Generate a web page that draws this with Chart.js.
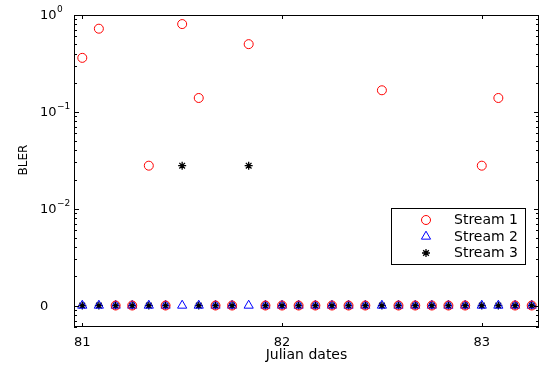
<!DOCTYPE html>
<html>
<head>
<meta charset="utf-8">
<title>BLER per stream</title>
<script src="https://cdn.jsdelivr.net/npm/chart.js@4.4.0/dist/chart.umd.min.js"></script>
<style>
    html, body { margin: 0; padding: 0; background: #fff; }
    #wrap { width: 546px; height: 366px; }
</style>
</head>
<body>
<div id="wrap"><canvas id="bler-chart" width="546" height="366"></canvas></div>
<script>
// Julian dates, one sample every two hours
const julianDates = [
    81.000, 81.083, 81.167, 81.250, 81.333, 81.417, 81.500, 81.583, 81.667, 81.750,
    81.833, 81.917, 82.000, 82.083, 82.167, 82.250, 82.333, 82.417, 82.500, 82.583,
    82.667, 82.750, 82.833, 82.917, 83.000, 83.083, 83.167, 83.250
];

// BLER per stream (0 = no block errors)
const stream1 = [
    0.361, 0.722, 0, 0, 0.0278, 0, 0.806, 0.139, 0, 0,
    0.500, 0, 0, 0, 0, 0, 0, 0, 0.167, 0,
    0, 0, 0, 0, 0.0278, 0.139, 0, 0
];
const stream2 = [
    0, 0, 0, 0, 0, 0, 0, 0, 0, 0,
    0, 0, 0, 0, 0, 0, 0, 0, 0, 0,
    0, 0, 0, 0, 0, 0, 0, 0
];
const stream3 = [
    0, 0, 0, 0, 0, 0, 0.0278, 0, 0, 0,
    0.0278, 0, 0, 0, 0, 0, 0, 0, 0, 0,
    0, 0, 0, 0, 0, 0, 0, 0
];

const legendLabels = ['Stream 1', 'Stream 2', 'Stream 3'];
const xTickValues = [81, 82, 83];
const yTickValues = [1, 0.1, 0.01, 0.001];
// [base, exponent]; an empty exponent means a plain label
const yTickLabels = [['10', '0'], ['10', '\u22121'], ['10', '\u22122'], ['0', '']];
const yTitle = 'BLER';

// zero BLER can't sit on a log axis, so it's drawn on this line and labelled "0"
const ZERO_LEVEL = 0.001;
const FONT = 'DejaVu Sans';

function toPoints(values) {
    return values.map((v, i) => ({ x: julianDates[i], y: v === 0 ? ZERO_LEVEL : v }));
}

function drawMarker(ctx, ds, cx, cy) {
    const r = ds.pointRadius;
    ctx.strokeStyle = ds.borderColor;
    ctx.lineWidth = ds.pointBorderWidth;
    ctx.beginPath();
    if (ds.pointStyle === 'circle') {
        ctx.arc(cx, cy, r, 0, Math.PI * 2);
    } else if (ds.pointStyle === 'triangle') {
        for (let i = 0; i < 3; i++) {
            const a = i * Math.PI * 2 / 3;
            const px = cx + Math.sin(a) * r;
            const py = cy - Math.cos(a) * r;
            if (i === 0) ctx.moveTo(px, py); else ctx.lineTo(px, py);
        }
        ctx.closePath();
    } else {
        const d = r * Math.SQRT1_2;
        ctx.moveTo(cx - r, cy); ctx.lineTo(cx + r, cy);
        ctx.moveTo(cx, cy - r); ctx.lineTo(cx, cy + r);
        ctx.moveTo(cx - d, cy - d); ctx.lineTo(cx + d, cy + d);
        ctx.moveTo(cx - d, cy + d); ctx.lineTo(cx + d, cy - d);
    }
    ctx.stroke();
}

/**
 * Axis box with inward ticks, y labels with exponents, y title and the legend
 */
const matlabFrame = {
    id: 'matlabFrame',
    afterDatasetsDraw(chart) {
        const { ctx, chartArea: a, scales: { x, y } } = chart;
        ctx.save();
        ctx.strokeStyle = '#000';
        ctx.lineWidth = 1;
        ctx.strokeRect(Math.round(a.left) + 0.5, Math.round(a.top) + 0.5,
            Math.round(a.right - a.left) - 1, Math.round(a.bottom - a.top) - 1);

        ctx.beginPath();
        const yTick = (v, len) => {
            const py = Math.round(y.getPixelForValue(v)) + 0.5;
            ctx.moveTo(a.left, py); ctx.lineTo(a.left + len, py);
            ctx.moveTo(a.right, py); ctx.lineTo(a.right - len, py);
        };
        yTickValues.forEach(v => yTick(v, 5));
        [0.0001, 0.001, 0.01, 0.1].forEach(decade => {
            for (let m = 2; m <= 9; m++) {
                const v = m * decade;
                if (v > y.min && v < y.max) yTick(v, 3);
            }
        });
        xTickValues.forEach(v => {
            const px = Math.round(x.getPixelForValue(v)) + 0.5;
            ctx.moveTo(px, a.bottom); ctx.lineTo(px, a.bottom - 4);
            ctx.moveTo(px, a.top); ctx.lineTo(px, a.top + 4);
        });
        ctx.stroke();

        // y tick labels
        ctx.fillStyle = '#000';
        ctx.textAlign = 'left';
        ctx.textBaseline = 'middle';
        yTickValues.forEach((v, i) => {
            const py = y.getPixelForValue(v);
            const [base, exp] = yTickLabels[i];
            ctx.font = '13px "' + FONT + '"';
            ctx.fillText(base, 40, py + 1);
            if (exp) {
                const w = ctx.measureText(base).width;
                ctx.font = '9px "' + FONT + '"';
                ctx.fillText(exp, 40 + w + 0.5, py - 5);
            }
        });

        // y title, a little above the middle as in the original figure
        ctx.save();
        ctx.translate(24, 160);
        ctx.rotate(-Math.PI / 2);
        ctx.textAlign = 'center';
        ctx.font = '12px "' + FONT + '"';
        ctx.fillText(yTitle, 0, 0);
        ctx.restore();

        // legend
        ctx.fillStyle = '#fff';
        ctx.fillRect(391, 208, 134, 56);
        ctx.strokeStyle = '#000';
        ctx.strokeRect(391.5, 208.5, 134, 56);
        const rows = [220, 236.5, 253];
        chart.data.datasets.forEach((ds, i) => {
            drawMarker(ctx, ds, 426, rows[i]);
            ctx.fillStyle = '#000';
            ctx.font = '14px "' + FONT + '"';
            ctx.fillText(legendLabels[i], 454, rows[i] + 0.5);
        });
        ctx.restore();
    }
};

new Chart(document.getElementById('bler-chart'), {
    type: 'scatter',
    data: {
        datasets: [{
            label: legendLabels[0],
            data: toPoints(stream1),
            pointStyle: 'circle',
            pointRadius: 4.5,
            pointBorderWidth: 1,
            borderColor: '#ff0000',
            backgroundColor: 'rgba(0,0,0,0)'
        }, {
            label: legendLabels[1],
            data: toPoints(stream2),
            pointStyle: 'triangle',
            pointRadius: 5.3,
            pointBorderWidth: 1,
            borderColor: '#0000ff',
            backgroundColor: 'rgba(0,0,0,0)'
        }, {
            label: legendLabels[2],
            data: toPoints(stream3),
            pointStyle: 'star',
            pointRadius: 4,
            pointBorderWidth: 1.3,
            borderColor: '#000000',
            backgroundColor: 'rgba(0,0,0,0)'
        }]
    },
    options: {
        responsive: false,
        animation: false,
        devicePixelRatio: 1,
        layout: { padding: { top: 15, right: 7, left: 0, bottom: 0 } },
        plugins: {
            legend: { display: false },
            tooltip: { enabled: false }
        },
        scales: {
            x: {
                type: 'linear',
                min: 80.9585,
                max: 83.2865,
                afterBuildTicks: s => { s.ticks = xTickValues.map(v => ({ value: v })); },
                afterFit: s => { s.height = 39; },
                grid: { display: false, drawTicks: false },
                border: { display: false },
                ticks: {
                    color: '#000',
                    font: { family: FONT, size: 13 },
                    padding: 8,
                    maxRotation: 0,
                    callback: v => String(v)
                },
                title: {
                    display: true,
                    text: 'Julian dates',
                    color: '#000',
                    font: { family: FONT, size: 14 },
                    padding: { top: 0, bottom: 2 }
                }
            },
            y: {
                type: 'logarithmic',
                min: 6.07e-4,
                max: 1,
                afterBuildTicks: s => { s.ticks = yTickValues.map(v => ({ value: v })); },
                afterFit: s => { s.width = 74; },
                grid: { display: false, drawTicks: false },
                border: { display: false },
                ticks: { display: false },
                title: { display: false }
            }
        }
    },
    plugins: [matlabFrame]
});
</script>
</body>
</html>
